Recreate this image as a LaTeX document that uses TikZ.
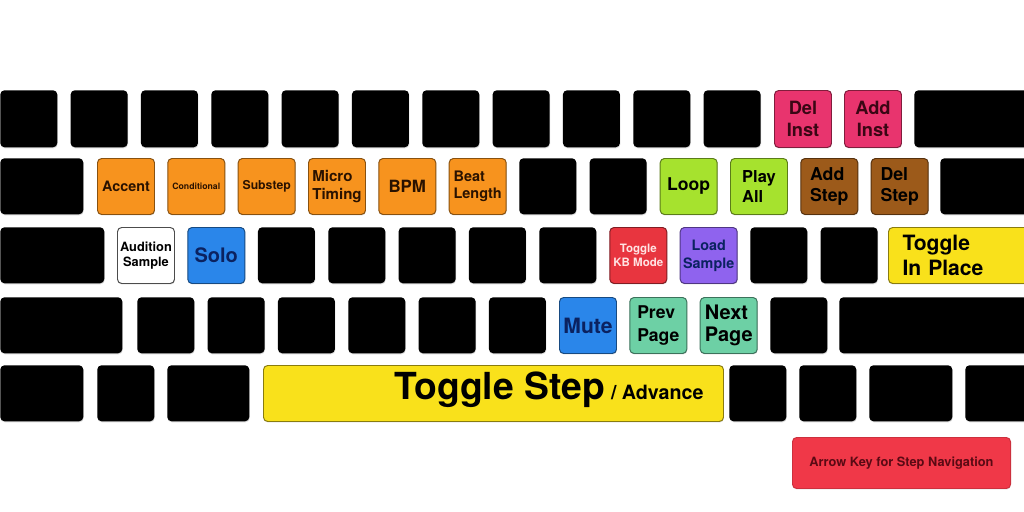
\documentclass[tikz,border=0pt]{standalone}
\usepackage{fontspec}
\setmainfont{TeX Gyre Heros}
\usetikzlibrary{shadows}
\definecolor{pinkk}{HTML}{E8346E}
\definecolor{orangek}{HTML}{F7931E}
\definecolor{limek}{HTML}{A6E22E}
\definecolor{brownk}{HTML}{9C5A1A}
\definecolor{bluek}{HTML}{2A86EA}
\definecolor{redk}{HTML}{E8353F}
\definecolor{purplek}{HTML}{8F63EE}
\definecolor{yellowk}{HTML}{F9E11B}
\definecolor{mintk}{HTML}{6DD0A5}
\definecolor{arrowk}{HTML}{F03848}
\definecolor{pinktxt}{HTML}{3A0614}
\definecolor{orgtxt}{HTML}{2A1200}
\definecolor{navytxt}{HTML}{0B2260}
\definecolor{kbtxt}{HTML}{FFE3E3}
\definecolor{arrtxt}{HTML}{5A0A14}
\newcommand\kf[2]{\fontsize{#1}{#2}\selectfont\bfseries}
\tikzset{
  key/.style={fill=black,rounded corners=3pt,inner sep=0pt,anchor=north west,
    minimum width=57*0.025cm,minimum height=56*0.025cm,align=center,
    drop shadow={fill=black!40,opacity=0.35,shadow xshift=0.3pt,shadow yshift=-0.7pt}},
  kw/.style={minimum width=#1*0.025cm},
  kh/.style={minimum height=#1*0.025cm},
  ckey/.style={key,fill=#1,draw=#1!55!black,line width=0.7pt},
}

\begin{document}
\begin{tikzpicture}[x=0.025cm,y=-0.025cm]
  \useasboundingbox (0,0) rectangle (1024,512);
  \fill[white] (0,0) rectangle (1024,512);
  % ---------- row 1 ----------
  \foreach \i in {0,...,10} \node[key,kh=57] (fn\i) at (70.33*\i,90) {};
  \node[ckey=pinkk,kh=57,text=pinktxt,font=\kf{13}{15.5}] (delinst) at (774,90) {Del\\Inst};
  \node[ckey=pinkk,kh=57,text=pinktxt,font=\kf{13}{15.5}] (addinst) at (844,90) {Add\\Inst};
  \node[key,kh=57,kw=120] (bksp) at (914,90) {};
  % ---------- row 2 ----------
  \node[key,kw=83] (tab) at (0,158) {};
  \node[ckey=orangek,text=orgtxt,font=\kf{10.2}{12}] (accent) at (97,158) {Accent};
  \node[ckey=orangek,text=orgtxt,font=\kf{6.2}{7}] (cond) at (167.3,158) {Conditional};
  \node[ckey=orangek,text=orgtxt,font=\kf{8.7}{10}] (substep) at (237.7,158) {Substep};
  \node[ckey=orangek,text=orgtxt,font=\kf{10.7}{12.5},align=left] (micro) at (308,158) {Micro\\Timing};
  \node[ckey=orangek,text=orgtxt,font=\kf{12}{13}] (bpm) at (378.3,158) {BPM};
  \node[ckey=orangek,text=orgtxt,font=\kf{10.3}{12.5},align=left] (beatlen) at (448.7,158) {Beat\\Length};
  \foreach \j in {6,7} \node[key] (q\j) at (97+70.33*\j,158) {};
  \node[ckey=limek,font=\kf{12.5}{14}] (loop) at (659.7,158) {Loop};
  \node[ckey=limek,font=\kf{11.7}{14},align=left] (playall) at (730,158) {Play\\All};
  \node[ckey=brownk,font=\kf{12.6}{15},align=left] (addstep) at (800.3,158) {Add\\Step};
  \node[ckey=brownk,font=\kf{12.6}{15},align=left] (delstep) at (870.7,158) {Del\\Step};
  \node[key,kw=95] (bslash) at (940,158) {};
  % ---------- row 3 ----------
  \node[key,kw=104] (caps) at (0,227) {};
  \node[ckey=white,draw=black!70,font=\kf{9.1}{10.5}] (audition) at (117,227) {Audition\\Sample};
  \node[ckey=bluek,text=navytxt,font=\kf{14.2}{15}] (solo) at (187.3,227) {Solo};
  \foreach \j in {2,...,6} \node[key] (a\j) at (117+70.33*\j,227) {};
  \node[ckey=redk,text=kbtxt,font=\kf{8.2}{9.5}] (kbmode) at (609.3,227) {Toggle\\KB Mode};
  \node[ckey=purplek,text=navytxt,font=\kf{10.2}{13}] (loadsmp) at (679.7,227) {Load\\Sample};
  \foreach \j in {9,10} \node[key] (a\j) at (117+70.33*\j,227) {};
  \node[ckey=yellowk,kw=140,text width=112*0.025cm,font=\kf{15}{17.8},align=left] (inplace) at (888,227) {Toggle\\In Place};
  % ---------- row 4 ----------
  \node[key,kw=122] (lshift) at (0,297) {};
  \foreach \j in {0,...,5} \node[key] (z\j) at (137+70.33*\j,297) {};
  \node[ckey=bluek,text=navytxt,font=\kf{15}{16}] (mute) at (559,297) {Mute};
  \node[ckey=mintk,font=\kf{12.5}{16},align=left] (prevpg) at (629.3,297) {Prev\\Page};
  \node[ckey=mintk,font=\kf{14.2}{16},align=left] (nextpg) at (699.7,297) {Next\\Page};
  \node[key] (z9) at (770,297) {};
  \node[key,kw=195] (rshift) at (839,297) {};
  % ---------- row 5 ----------
  \node[key,kw=83] (fnk) at (0,365) {};
  \node[key] (ctrl) at (97,365) {};
  \node[key,kw=82] (lcmd) at (167,365) {};
  \node[ckey=yellowk,kw=460] (space) at (263,365) {};
  \node[anchor=base,inner sep=0pt] (spacelbl) at (549,399)
    {\kf{26.5}{27}Toggle Step\,{\kf{14}{15}/ Advance}};
  \node[key] (rcmd) at (729,365) {};
  \node[key] (ralt) at (799,365) {};
  \node[key,kw=83] (rctl) at (869,365) {};
  \node[key,kw=70] (lastk) at (965,365) {};
  % ---------- arrow note ----------
  \node[ckey=arrowk,draw=arrowk!85!black,kw=218,kh=51,text=arrtxt,font=\kf{9.1}{10}] (arrows) at (792,437)
    {Arrow Key for Step Navigation};
\end{tikzpicture}
\end{document}
